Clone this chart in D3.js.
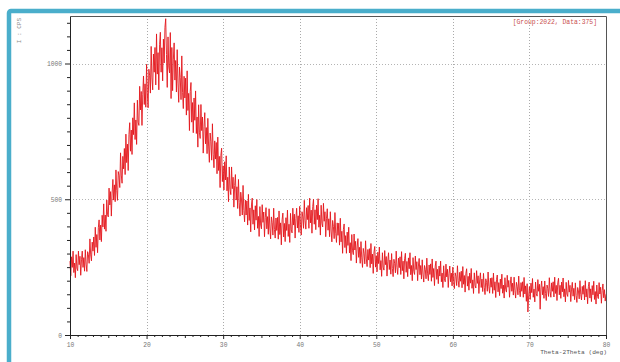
<!DOCTYPE html>
<html>
<head>
<meta charset="utf-8">
<script src="https://cdn.jsdelivr.net/npm/d3@7"></script>
<style>
  body { margin: 0; background: #fff; }
  svg { display: block; }
</style>
</head>
<body>
<svg id="chart" width="620" height="362"></svg>
<script>
// scan settings (deg)
const xStart = 10;
const xStep = 0.1;

// intensity (cps), one row per degree
const intensity = [
  272, 218, 288, 249, 309, 230, 265, 211, 296, 246,
  237, 309, 259, 290, 220, 277, 309, 249, 285, 235,
  314, 261, 234, 307, 296, 264, 354, 295, 273, 342,
  309, 361, 293, 397, 323, 370, 303, 395, 424, 350,
  405, 344, 441, 398, 483, 390, 442, 382, 497, 443,
  435, 541, 479, 528, 438, 523, 573, 497, 553, 491,
  608, 533, 496, 602, 588, 543, 671, 589, 559, 658,
  612, 687, 591, 740, 635, 703, 606, 739, 782, 677,
  755, 665, 800, 738, 855, 720, 792, 702, 865, 784,
  772, 916, 829, 897, 772, 887, 954, 849, 925, 839,
  997, 892, 837, 979, 955, 891, 1063, 947, 903, 1035,
  968, 1059, 921, 1109, 961, 1040, 903, 1069, 1115, 968,
  1058, 936, 1090, 1002, 1133, 1165, 1033, 912, 1098, 987,
  965, 1114, 871, 1059, 900, 1016, 1076, 939, 1011, 895,
  1051, 928, 857, 987, 948, 867, 1028, 894, 834, 953,
  873, 946, 810, 973, 827, 890, 753, 897, 930, 784,
  856, 745, 873, 791, 899, 742, 803, 692, 848, 747,
  724, 849, 753, 803, 670, 767, 819, 704, 764, 668,
  798, 696, 636, 744, 712, 644, 778, 666, 616, 715,
  648, 709, 594, 729, 606, 658, 543, 662, 688, 565,
  623, 534, 638, 571, 660, 531, 581, 491, 619, 537,
  517, 619, 539, 581, 471, 550, 591, 497, 546, 466,
  573, 487, 438, 526, 498, 442, 551, 459, 417, 497,
  442, 494, 405, 518, 422, 468, 380, 479, 504, 408,
  461, 387, 476, 423, 499, 393, 437, 363, 473, 405,
  391, 480, 415, 453, 362, 432, 469, 391, 436, 371,
  465, 394, 354, 435, 414, 368, 467, 389, 357, 431,
  385, 433, 353, 457, 370, 413, 332, 424, 449, 361,
  411, 344, 432, 385, 460, 363, 408, 341, 448, 387,
  376, 467, 405, 445, 357, 429, 467, 394, 439, 378,
  474, 406, 368, 454, 435, 393, 496, 421, 390, 469,
  425, 477, 393, 504, 413, 460, 375, 473, 500, 408,
  461, 388, 478, 425, 502, 397, 441, 368, 478, 411,
  398, 485, 419, 454, 362, 430, 465, 386, 428, 362,
  454, 383, 343, 422, 400, 355, 451, 375, 341, 413,
  367, 412, 331, 430, 343, 382, 301, 388, 409, 322,
  366, 301, 379, 330, 397, 302, 340, 274, 370, 310,
  296, 372, 313, 345, 265, 324, 355, 286, 323, 264,
  344, 284, 249, 319, 300, 262, 347, 280, 252, 315,
  276, 318, 248, 337, 262, 298, 227, 306, 326, 250,
  292, 233, 305, 263, 324, 240, 274, 216, 303, 250,
  239, 311, 259, 289, 217, 272, 303, 241, 276, 224,
  300, 245, 215, 279, 264, 229, 309, 249, 223, 283,
  248, 288, 223, 307, 237, 272, 207, 281, 301, 231,
  271, 215, 284, 244, 303, 222, 256, 200, 285, 234,
  223, 291, 241, 270, 200, 254, 282, 222, 256, 206,
  277, 224, 195, 256, 242, 207, 283, 225, 200, 258,
  223, 262, 198, 280, 212, 245, 182, 254, 272, 205,
  242, 189, 254, 217, 272, 196, 228, 175, 255, 207,
  196, 261, 214, 242, 175, 226, 254, 196, 228, 181,
  250, 198, 171, 229, 216, 182, 255, 200, 176, 231,
  198, 235, 174, 252, 187, 219, 158, 227, 244, 180,
  216, 165, 228, 191, 245, 172, 203, 153, 229, 183,
  173, 237, 190, 218, 153, 203, 229, 175, 206, 160,
  227, 176, 149, 207, 194, 161, 232, 178, 154, 209,
  176, 211, 153, 228, 165, 196, 138, 204, 221, 159,
  193, 145, 206, 171, 224, 154, 184, 136, 211, 167,
  158, 220, 176, 201, 139, 188, 214, 161, 191, 147,
  213, 164, 136, 194, 179, 148, 217, 163, 141, 193,
  161, 196, 139, 212, 151, 181, 124, 189, 85, 144,
  178, 131, 191, 156, 208, 139, 169, 122, 195, 152,
  143, 204, 161, 187, 95, 174, 199, 148, 178, 135,
  199, 153, 127, 184, 171, 142, 211, 160, 139, 192,
  161, 196, 140, 213, 153, 183, 127, 192, 209, 148,
  183, 135, 195, 159, 210, 141, 170, 122, 194, 151,
  142, 201, 158, 183, 123, 169, 194, 143, 172, 130,
  192, 145, 120, 175, 162, 133, 200, 150, 129, 179,
  150, 183, 129, 200, 140, 170, 115, 178, 195, 136,
  170, 123, 182, 148, 198, 131, 160, 114, 184, 142,
  134, 193, 151, 176, 117, 163, 188, 137, 167, 125,
  150
];

const xDomain = [10, 80];
const yDomain = [0, 1175];
const xMajor = [10, 20, 30, 40, 50, 60, 70, 80];
const yMajor = [0, 500, 1000];
const xTitle = 'Theta-2Theta (deg)';
const yTitle = 'I : CPS';
const legendText = '[Group:2022, Data:375]';

const margin = { top: 16, right: 14, bottom: 27, left: 70 };
const W = 620, H = 362;
const width = W - margin.left - margin.right;
const height = H - margin.top - margin.bottom;
const font = '"Liberation Mono", "DejaVu Sans Mono", monospace';

const data = intensity.map((v, i) => ({ x: xStart + i * xStep, y: v }));

const svg = d3.select('#chart');

// teal outer frame (runs off the right/bottom edge)
svg.append('rect')
  .attr('x', 9).attr('y', 11)
  .attr('width', 640).attr('height', 400)
  .attr('rx', 2)
  .attr('fill', 'none')
  .attr('stroke', '#4aaecb')
  .attr('stroke-width', 4.5);

const g = svg.append('g').attr('transform', `translate(${margin.left},${margin.top})`);

const x = d3.scaleLinear().domain(xDomain).range([0, width]);
const y = d3.scaleLinear().domain(yDomain).range([height, 0]);

// dotted grid
g.append('g')
  .selectAll('line')
  .data(xMajor.slice(1, -1))
  .join('line')
  .attr('x1', d => Math.round(x(d)) + 0.5).attr('x2', d => Math.round(x(d)) + 0.5)
  .attr('y1', 0).attr('y2', height)
  .attr('stroke', '#aaa')
  .attr('stroke-dasharray', '1,2');

g.append('g')
  .selectAll('line')
  .data(yMajor.slice(1))
  .join('line')
  .attr('x1', 0).attr('x2', width)
  .attr('y1', d => Math.round(y(d)) + 0.5).attr('y2', d => Math.round(y(d)) + 0.5)
  .attr('stroke', '#b4b4b4')
  .attr('stroke-dasharray', '1,2');

// pattern
const line = d3.line()
  .x(d => x(d.x))
  .y(d => y(d.y));

g.append('path')
  .datum(data)
  .attr('fill', 'none')
  .attr('stroke', '#e3161c')
  .attr('stroke-width', 0.9)
  .attr('d', line);

// frame top / right
g.append('path')
  .attr('d', `M0.5,0.5H${width + 0.5}V${height}`)
  .attr('fill', 'none')
  .attr('stroke', '#555');

// axes
const xAxis = d3.axisBottom(x)
  .tickValues(d3.range(10, 81, 1))
  .tickSize(2)
  .tickSizeOuter(0)
  .tickPadding(6)
  .tickFormat(d => (d % 10 === 0 ? d : ''));

const gx = g.append('g')
  .attr('transform', `translate(0,${height})`)
  .call(xAxis);

gx.selectAll('.tick line')
  .attr('y2', d => (d % 10 === 0 ? 4 : d % 5 === 0 ? 3 : 2));

const yAxis = d3.axisLeft(y)
  .tickValues(d3.range(0, 1176, 50))
  .tickSize(3)
  .tickSizeOuter(0)
  .tickPadding(5)
  .tickFormat(d => (d % 500 === 0 ? d : ''));

const gy = g.append('g').call(yAxis);

gy.selectAll('.tick line')
  .attr('x2', d => (d % 500 === 0 ? -5 : -3));

[gx, gy].forEach(a => {
  a.select('.domain').attr('stroke', '#222');
  a.selectAll('.tick line').attr('stroke', '#222');
  a.selectAll('.tick text')
    .attr('fill', '#777')
    .style('font-family', font)
    .style('font-size', '6.3px');
});

// titles
g.append('text')
  .attr('x', width + 1)
  .attr('y', height + 19)
  .attr('text-anchor', 'end')
  .attr('fill', '#555')
  .style('font-family', font)
  .style('font-size', '6.2px')
  .text(xTitle);

svg.append('text')
  .attr('transform', 'translate(21,18) rotate(-90)')
  .attr('text-anchor', 'end')
  .attr('fill', '#888')
  .style('font-family', font)
  .style('font-size', '6px')
  .text(yTitle);

g.append('text')
  .attr('x', width - 9)
  .attr('y', 8)
  .attr('text-anchor', 'end')
  .attr('fill', '#c9504f')
  .style('font-family', font)
  .style('font-size', '6.4px')
  .text(legendText);
</script>
</body>
</html>
